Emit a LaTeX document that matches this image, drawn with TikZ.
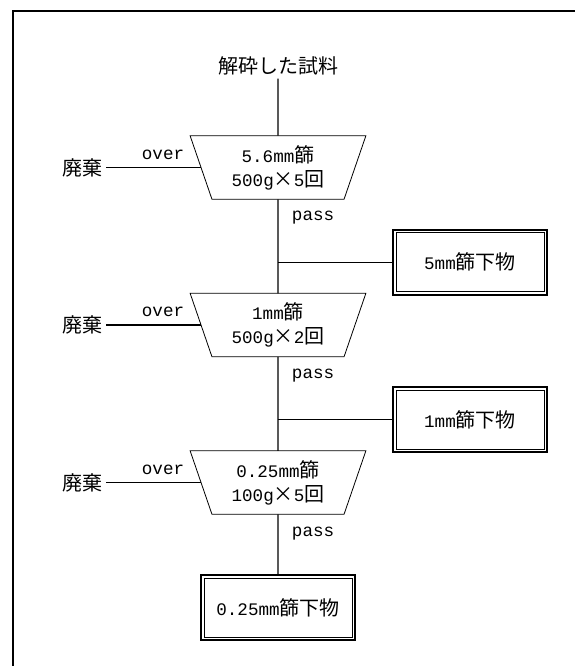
\documentclass[tikz,border=0pt]{standalone}
\usepackage{fontspec}
\setmainfont{Noto Sans CJK JP}
\newfontfamily\lat{Liberation Mono}[Scale=0.88]
\usetikzlibrary{positioning, shapes.geometric}

\begin{document}
\begin{tikzpicture}[x=1pt, y=-1pt,
  font=\fontsize{20}{24}\selectfont,
  sv/.style={trapezium, shape border rotate=180, trapezium angle=71,
             trapezium stretches=true, draw, line width=0.8pt, align=center,
             minimum width=176pt, minimum height=63.5pt, inner sep=0pt, outer sep=0pt},
  pr/.style={draw, line width=2.2pt, minimum width=154pt, minimum height=65pt, outer sep=0pt,
             path picture={\draw[line width=0.7pt]
               ([shift={(2.9pt,-2.9pt)}]path picture bounding box.north west) rectangle
               ([shift={(-2.9pt,2.9pt)}]path picture bounding box.south east);}},
  ln/.style={line width=1.2pt},
  lb/.style={font=\lat\fontsize{20}{24}\selectfont}]
\useasboundingbox (0,0) rectangle (575,666);
\draw[line width=1.2pt](13,666)--(13,11)--(575,11);
% sieves
\node[sv](s1) at (278,167.5){{\lat 5.6mm}篩\\{\lat 500g}×{\lat 5}回};
\node[above=57pt of s1](src){解砕した試料};
\node[sv, below=94pt of s1](s2){{\lat 1mm}篩\\{\lat 500g}×{\lat 2}回};
\node[sv, below=94pt of s2](s3){{\lat 0.25mm}篩\\{\lat 100g}×{\lat 5}回};
\node[pr, below=61pt of s3](r3){{\lat 0.25mm}篩下物};
% waste
\node[left=95pt of s1](w1){廃棄};
\node[left=95pt of s2](w2){廃棄};
\node[left=95pt of s3](w3){廃棄};
\draw[ln](w1)--node[lb, above=4pt, pos=0.6](o1){over}(s1.west);
\draw[ln](w2)--node[lb, above=4pt, pos=0.6](o2){over}(s2.west);
\draw[ln](w3)--node[lb, above=4pt, pos=0.6](o3){over}(s3.west);
% main line
\draw[ln](src)--(s1);
\draw[ln](s1)--node[lb, right=10pt, pos=0.2](p1){pass} coordinate[pos=0.67](j1)(s2);
\draw[ln](s2)--node[lb, right=10pt, pos=0.2](p2){pass} coordinate[pos=0.67](j2)(s3);
\draw[ln](s3)--node[lb, right=10pt, pos=0.31](p3){pass}(r3);
% products
\node[pr, right=115pt of j1](r1){{\lat 5mm}篩下物};
\node[pr, right=115pt of j2](r2){{\lat 1mm}篩下物};
\draw[ln](j1)--(r1);\draw[ln](j2)--(r2);
\end{tikzpicture}
\end{document}
